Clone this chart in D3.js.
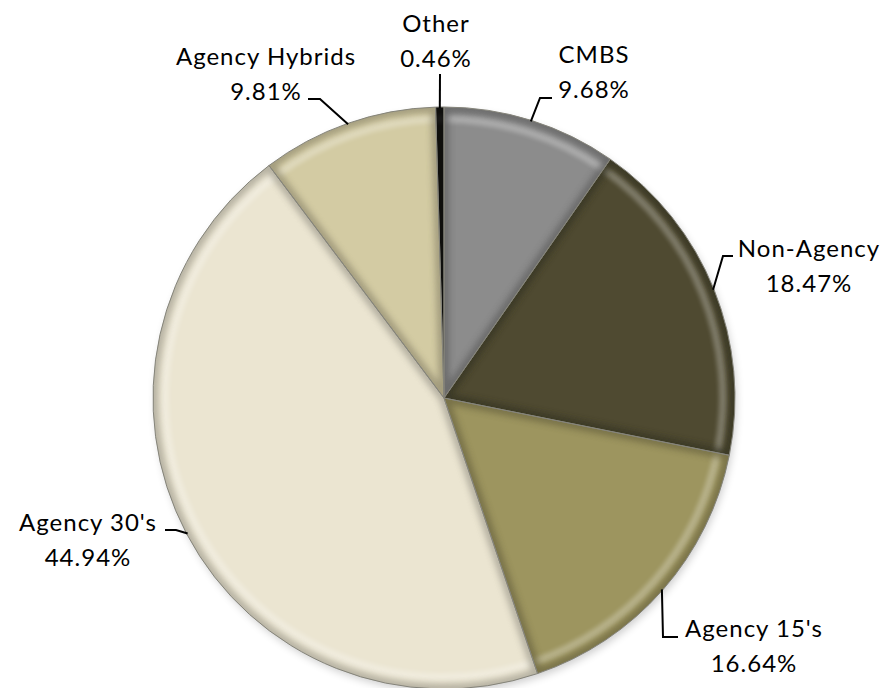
<!DOCTYPE html>
<html>
<head>
<meta charset="utf-8">
<script src="https://cdn.jsdelivr.net/npm/d3@7"></script>
<style>
  body { margin: 0; background: #ffffff; }
  svg { display: block; }
  text { font-family: Lato, "Open Sans", sans-serif; font-size: 24px; fill: #000; letter-spacing: 1px; }
</style>
</head>
<body>
<script>
// Portfolio composition by sector (percent of total)
const categories = ["CMBS", "Non-Agency", "Agency 15's", "Agency 30's", "Agency Hybrids", "Other"];
const shares = [9.68, 18.47, 16.64, 44.94, 9.81, 0.46];
const shareLabels = ["9.68%", "18.47%", "16.64%", "44.94%", "9.81%", "0.46%"];
const sliceColors = ["#8c8c8c", "#4f4a31", "#9d955f", "#ebe5d1", "#d3cba3", "#15140e"];

// Label placement: text centre, first baseline, and leader-line points (text end, elbow)
const labelLayout = [
  { x: 594, y: 63,  leader: [[552, 98], [540, 98]] },
  { x: 809, y: 257, leader: [[733, 256], [723, 256]] },
  { x: 754, y: 637, leader: [[678, 637], [663, 637]] },
  { x: 88,  y: 531, leader: [[165, 530], [176, 530]] },
  { x: 266, y: 65,  leader: [[308, 99], [320, 99]] },
  { x: 436, y: 32,  leader: [[440, 74]] }
];

const W = 888, H = 688;
const cx = 444, cy = 398, R = 291;
const lineGap = 35;

const svg = d3.select("body").append("svg").attr("width", W).attr("height", H);
const defs = svg.append("defs");

function blurFilter(id, sd) {
  defs.append("filter")
    .attr("id", id)
    .attr("filterUnits", "userSpaceOnUse")
    .attr("x", -W).attr("y", -H).attr("width", W * 3).attr("height", H * 3)
    .append("feGaussianBlur").attr("stdDeviation", sd);
}
blurFilter("blur2", 2);
blurFilter("blur3", 3);
blurFilter("blur4", 4);

const pie = d3.pie().sort(null).value(d => d);
const arcs = pie(shares);
const arc = d3.arc().innerRadius(0).outerRadius(R);
const rimBand = d3.arc().innerRadius(R - 16).outerRadius(R - 8);

const g = svg.append("g").attr("transform", `translate(${cx},${cy})`);

// soft shadow under the pie
g.append("circle")
  .attr("cx", 2).attr("cy", 4).attr("r", R - 1)
  .attr("fill", "#000").attr("opacity", 0.2)
  .attr("filter", "url(#blur4)");

arcs.forEach((d, i) => {
  const clipId = "slice-clip-" + i;
  defs.append("clipPath").attr("id", clipId)
    .append("path").attr("d", arc(d));

  const base = d3.color(sliceColors[i]);
  const s = g.append("g").attr("clip-path", `url(#${clipId})`);

  s.append("path").attr("d", arc(d)).attr("fill", base.formatHex());

  // bright band just inside the rim
  s.append("path").attr("d", rimBand(d))
    .attr("fill", "#ffffff").attr("opacity", i === 5 ? 0.12 : 0.26)
    .attr("filter", "url(#blur2)");

  // darkened bevel along every edge of the slice
  s.append("path").attr("d", arc(d))
    .attr("fill", "none")
    .attr("stroke", base.darker(1.2).formatHex())
    .attr("stroke-width", 10)
    .attr("opacity", 0.65)
    .attr("filter", "url(#blur3)");
});

// slice borders
g.selectAll("path.border")
  .data(arcs)
  .join("path")
  .attr("class", "border")
  .attr("d", arc)
  .attr("fill", "none")
  .attr("stroke", "#85847a")
  .attr("stroke-width", 1);

// leader lines from the rim at each slice's mid-angle
const lineGen = d3.line();
arcs.forEach((d, i) => {
  const a = (d.startAngle + d.endAngle) / 2;
  const edge = [cx + (R - 1) * Math.sin(a), cy - (R - 1) * Math.cos(a)];
  const pts = labelLayout[i].leader.concat([edge]);
  svg.append("path")
    .attr("d", lineGen(pts))
    .attr("fill", "none")
    .attr("stroke", "#000")
    .attr("stroke-width", 2);
});

// category and percentage labels
categories.forEach((c, i) => {
  const L = labelLayout[i];
  const t = svg.append("text")
    .attr("text-anchor", "middle")
    .attr("x", L.x).attr("y", L.y);
  t.append("tspan").attr("x", L.x).attr("y", L.y).text(c);
  t.append("tspan").attr("x", L.x).attr("y", L.y + lineGap).text(shareLabels[i]);
});
</script>
</body>
</html>
